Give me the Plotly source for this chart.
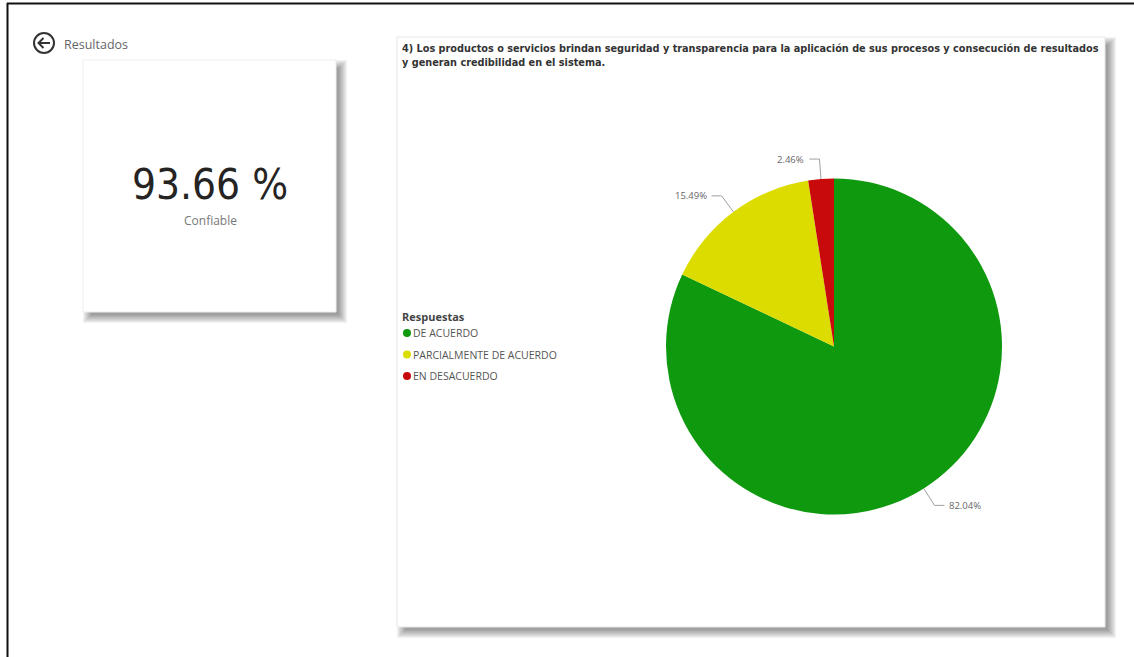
import math
import plotly.graph_objects as go

# ---- data ----
categories = ["DE ACUERDO", "PARCIALMENTE DE ACUERDO", "EN DESACUERDO"]
values = [82.04, 15.49, 2.46]
colors = ["#0E990E", "#DCDC00", "#C80A0A"]
kpi_value = "93.66 %"
kpi_label = "Confiable"
legend_title = "Respuestas"
chart_title = ("4) Los productos o servicios brindan seguridad y transparencia para la aplicación de sus procesos y consecución de resultados"
               "<br>y generan credibilidad en el sistema.")
back_label = "Resultados"

W, H = 1134, 657
# pie geometry (pixels)
CX, CY, R = 834, 346.5, 168

fig = go.Figure()

shapes = []
annotations = []

def shadow(x0, y0, x1, y1, off=5, layers=10):
    for i in range(layers):
        e = i * 0.9
        shapes.append(dict(type="rect", xref="x", yref="y",
                           x0=x0 + off - e + 3, y0=y0 + off - e + 3,
                           x1=x1 + off + e - 2, y1=y1 + off + e - 2,
                           line=dict(width=0), fillcolor="rgba(0,0,0,0.045)", layer="below"))

# card
shadow(83, 60, 336, 312)
shapes.append(dict(type="rect", xref="x", yref="y", x0=83, y0=60, x1=336, y1=312,
                   line=dict(width=1, color="#EEEEEE"), fillcolor="white", layer="below"))
# chart panel
shadow(397, 37, 1105, 627)
shapes.append(dict(type="rect", xref="x", yref="y", x0=397, y0=37, x1=1105, y1=627,
                   line=dict(width=1, color="#E6E6E6"), fillcolor="white", layer="below"))

# outer border (top and left)
shapes.append(dict(type="line", xref="x", yref="y", x0=7, y0=3.5, x1=W, y1=3.5,
                   line=dict(width=2, color="#111111")))
shapes.append(dict(type="line", xref="x", yref="y", x0=7.5, y0=3, x1=7.5, y1=H,
                   line=dict(width=2, color="#111111")))

# back icon
shapes.append(dict(type="circle", xref="x", yref="y", x0=34, y0=33, x1=54, y1=53,
                   line=dict(width=2, color="#333333")))
shapes.append(dict(type="path", xref="x", yref="y",
                   path="M 50 43 L 38.5 43 M 43.5 38 L 38.5 43 L 43.5 48",
                   line=dict(width=2, color="#333333")))
annotations.append(dict(x=62, y=44, xref="x", yref="y", text=back_label, showarrow=False,
                        xanchor="left", yanchor="middle",
                        font=dict(family="Open Sans", size=12.5, color="#666666")))

# KPI card text
annotations.append(dict(x=210, y=184, xref="x", yref="y", text=kpi_value, showarrow=False,
                        xanchor="center", yanchor="middle",
                        font=dict(family="DejaVu Sans Condensed", size=42, color="#252423")))
annotations.append(dict(x=210, y=220, xref="x", yref="y", text=kpi_label, showarrow=False,
                        xanchor="center", yanchor="middle",
                        font=dict(family="Open Sans", size=12, color="#777777")))

# chart title
annotations.append(dict(x=400, y=40, xref="x", yref="y", text=chart_title, showarrow=False,
                        xanchor="left", yanchor="top", align="left",
                        font=dict(family="DejaVu Sans Condensed", size=10.8, color="#333333",
                                  weight="bold")))

# pie
fig.add_trace(go.Pie(values=values, labels=categories, sort=False, direction="clockwise",
                     rotation=0, textinfo="none", showlegend=False,
                     marker=dict(colors=colors, line=dict(width=0)),
                     domain=dict(x=[(CX - R) / W, (CX + R) / W],
                                 y=[1 - (CY + R) / H, 1 - (CY - R) / H])))

# data labels with leader lines (computed from the values)
total = sum(values)
cum = 0.0
for v in values:
    mid = (cum + v / 2) / total * 2 * math.pi
    cum += v
    sx, sy = math.sin(mid), -math.cos(mid)
    x0, y0 = CX + R * sx, CY + R * sy
    x1, y1 = CX + (R + 20) * sx, CY + (R + 20) * sy
    d = 1 if sx >= 0 else -1
    x2 = x1 + 10 * d
    shapes.append(dict(type="path", xref="x", yref="y",
                       path=f"M {x0} {y0} L {x1} {y1} L {x2} {y1}",
                       line=dict(width=1, color="#A0A0A0")))
    annotations.append(dict(x=x2 + 3 * d, y=y1, xref="x", yref="y",
                            text=f"{v:.2f}%", showarrow=False,
                            xanchor="left" if d > 0 else "right", yanchor="middle",
                            font=dict(family="Open Sans", size=9.5, color="#666666")))

# legend (custom)
annotations.append(dict(x=400, y=316, xref="x", yref="y", text=f"<b>{legend_title}</b>",
                        showarrow=False, xanchor="left", yanchor="middle",
                        font=dict(family="Open Sans", size=11, color="#444444")))
ly = [333, 354.5, 376]
for i, (c, col) in enumerate(zip(categories, colors)):
    fig.add_trace(go.Scatter(x=[407], y=[ly[i]], mode="markers", showlegend=False,
                             hoverinfo="skip",
                             marker=dict(size=8, color=col, line=dict(width=0))))
    annotations.append(dict(x=411, y=ly[i], xref="x", yref="y", text=c, showarrow=False,
                            xanchor="left", yanchor="middle",
                            font=dict(family="Open Sans", size=10.5, color="#555555")))

fig.update_layout(
    width=W, height=H, margin=dict(l=0, r=0, t=0, b=0),
    paper_bgcolor="white", plot_bgcolor="rgba(0,0,0,0)",
    xaxis=dict(range=[0, W], visible=False, fixedrange=True, domain=[0, 1]),
    yaxis=dict(range=[H, 0], visible=False, fixedrange=True, domain=[0, 1]),
    shapes=shapes, annotations=annotations, showlegend=False,
)

fig.write_html("out.html", config={"displayModeBar": False},
               post_script="document.body.style.margin='0';document.body.style.overflow='hidden';")
